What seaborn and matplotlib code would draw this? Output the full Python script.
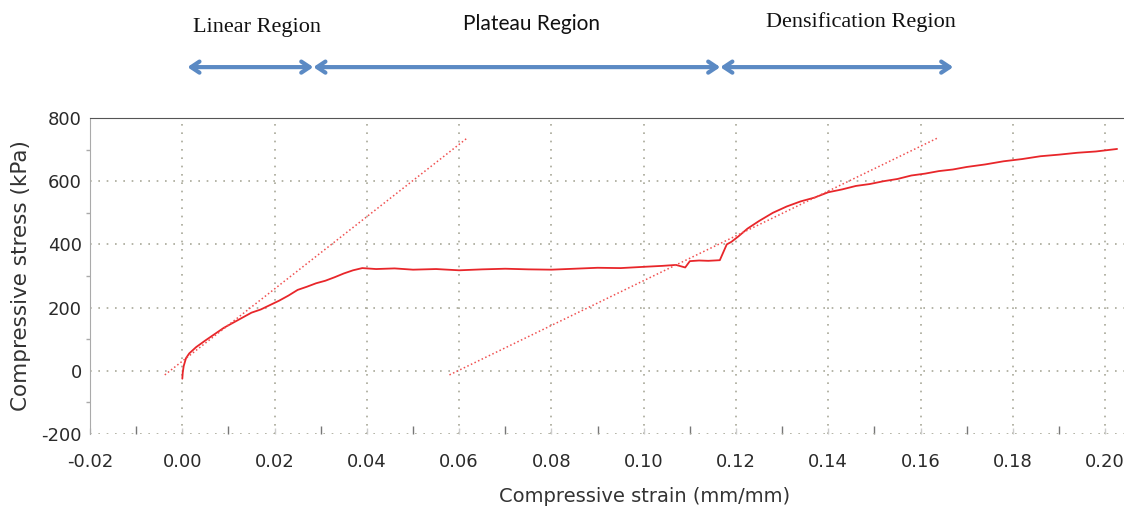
import numpy as np
import pandas as pd
import matplotlib
matplotlib.use('Agg')
import matplotlib.pyplot as plt
import seaborn as sns
from matplotlib.ticker import MultipleLocator

# ---- data ----
strain = [0.0000, 0.0001, 0.0003, 0.0008, 0.0015, 0.0030, 0.0050, 0.0070, 0.0090,
          0.0110, 0.0130, 0.0150, 0.0170, 0.0190, 0.0210, 0.0230, 0.0250, 0.0270,
          0.0290, 0.0310, 0.0330, 0.0350, 0.0370, 0.0390, 0.0420, 0.0460, 0.0500,
          0.0550, 0.0600, 0.0650, 0.0700, 0.0750, 0.0800, 0.0850, 0.0900, 0.0950,
          0.1000, 0.1040, 0.1070, 0.1090, 0.1100, 0.1120, 0.1140, 0.1165, 0.1180,
          0.1190, 0.1205, 0.1225, 0.1250, 0.1280, 0.1310, 0.1340, 0.1370, 0.1400,
          0.1430, 0.1460, 0.1490, 0.1520, 0.1550, 0.1580, 0.1610, 0.1640, 0.1670,
          0.1700, 0.1740, 0.1780, 0.1820, 0.1860, 0.1900, 0.1940, 0.1980, 0.2026]
stress = [-25, -5, 15, 40, 55, 75, 96, 116, 136,
          152, 168, 184, 194, 208, 222, 238, 256, 266,
          277, 285, 296, 308, 318, 325, 322, 324, 320,
          322, 318, 321, 323, 321, 320, 323, 326, 325,
          329, 332, 335, 327, 347, 349, 348, 350, 400,
          408, 425, 450, 474, 500, 520, 536, 548, 565,
          574, 585, 591, 600, 607, 618, 624, 632, 637,
          645, 653, 663, 670, 679, 684, 690, 694, 702]

# tangent construction lines (end points)
tan1_strain = [-0.0038, 0.0617]
tan1_stress = [-13, 736]
tan2_strain = [0.0579, 0.1636]
tan2_stress = [-13, 736]

# region annotations
region_names = ['Linear Region', 'Plateau Region', 'Densification Region']
region_start = [0.0011, 0.0284, 0.1166]
region_end = [0.0284, 0.1166, 0.1671]

df = pd.DataFrame({'strain': strain, 'stress': stress})

sns.set_style('white')
plt.rcParams['font.family'] = ['DejaVu Sans']
plt.rcParams['axes.unicode_minus'] = False

fig = plt.figure(figsize=(11.24, 5.13), dpi=100)
ax = fig.add_axes([0.0801, 0.154, 0.9199, 0.616])

red = '#e8262a'
sns.lineplot(data=df, x='strain', y='stress', sort=False, estimator=None,
             color=red, lw=1.3, ax=ax)
sns.lineplot(x=tan1_strain, y=tan1_stress, color='#f05050', lw=1.1,
             linestyle=(0, (1, 1.6)), ax=ax)
sns.lineplot(x=tan2_strain, y=tan2_stress, color='#f05050', lw=1.1,
             linestyle=(0, (1, 1.6)), ax=ax)

ax.set_xlim(-0.02, 0.2041)
ax.set_ylim(-200, 800)
ax.xaxis.set_major_locator(MultipleLocator(0.02))
ax.xaxis.set_minor_locator(MultipleLocator(0.01))
ax.yaxis.set_major_locator(MultipleLocator(200))
ax.yaxis.set_minor_locator(MultipleLocator(100))
ax.xaxis.set_major_formatter(plt.FuncFormatter(lambda v, p: f'{v:.2f}'))

ax.grid(True, which='major', color='#a8a898', linestyle=(0, (1, 4)), lw=1.2)
ax.tick_params(axis='y', which='major', direction='out', length=4, width=1,
               color='#555555', labelsize=13, labelcolor='#2a2a2a', pad=2)
ax.tick_params(axis='y', which='minor', direction='out', length=3, width=1,
               color='#aaaaaa', left=True)
ax.tick_params(axis='x', which='major', direction='in', length=4, width=1,
               color='#cccccc', labelsize=13, labelcolor='#2a2a2a', pad=14, bottom=True)
ax.tick_params(axis='x', which='minor', direction='in', length=6, width=1,
               color='#777777', bottom=True)

for s in ['right', 'bottom']:
    ax.spines[s].set_visible(False)
ax.spines['top'].set_color('#555555')
ax.spines['left'].set_color('#aaaaaa')

ax.set_xlabel('Compressive strain (mm/mm)', fontsize=14, color='#333333')
ax.xaxis.set_label_coords((645 - 90) / 1034, -0.168)
ax.set_ylabel('Compressive stress (kPa)', fontsize=15.5, color='#333333')
ax.yaxis.set_label_coords(-0.057, 0.5)

# region arrows above the plot
trans = ax.get_xaxis_transform()
arrow_color = '#5b8ac4'
for x0, x1 in zip(region_start, region_end):
    ax.annotate('', xy=(x1, 1.161), xytext=(x0, 1.161), xycoords=trans,
                textcoords=trans, annotation_clip=False,
                arrowprops=dict(arrowstyle='<->,head_length=0.6,head_width=0.4',
                                color=arrow_color, lw=3, shrinkA=0, shrinkB=0))

ax.text(0.0162, 1.285, region_names[0], transform=trans, ha='center', va='center',
        fontsize=16, family='Liberation Serif', color='#111111', clip_on=False)
ax.text(0.0756, 1.297, region_names[1], transform=trans, ha='center', va='center',
        fontsize=15, family='Lato', color='#111111', clip_on=False)
ax.text(0.1471, 1.304, region_names[2], transform=trans, ha='center', va='center',
        fontsize=16, family='Liberation Serif', color='#111111', clip_on=False)

fig.savefig('out.png', dpi=100)
